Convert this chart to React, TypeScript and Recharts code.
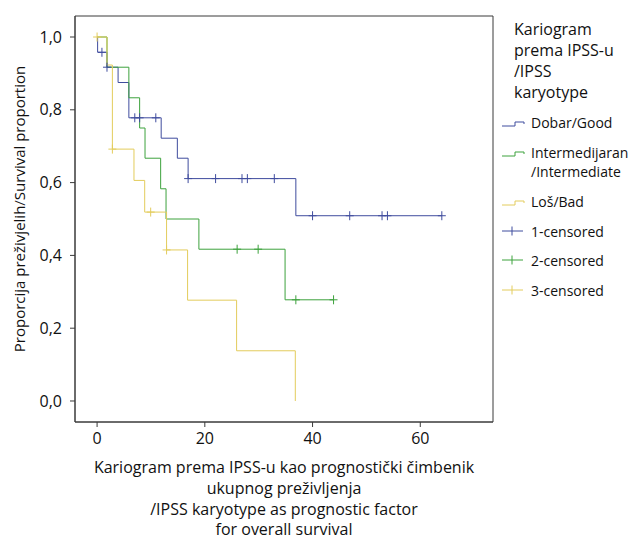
import { ComposedChart, Line, Scatter, XAxis, YAxis, ReferenceArea } from "recharts";

const FONT = '"Open Sans", "Noto Sans", sans-serif';

// Kaplan-Meier steps (time in months, survival proportion after that time)
const goodTimes = [0, 0.1, 1.84, 3.9, 5.9, 11.9, 14.9, 16.9, 36.9, 64.0];
const goodSurv = [1.0, 0.958, 0.917, 0.875, 0.778, 0.722, 0.667, 0.611, 0.509, 0.509];
const goodCensored = [0.9, 1.84, 7.0, 7.9, 10.9, 16.9, 22.0, 26.9, 27.9, 32.9, 40.0, 46.9, 52.9, 53.9, 64.0];

const midTimes = [0, 1.84, 5.9, 7.9, 8.9, 11.8, 12.8, 18.9, 34.9, 43.9];
const midSurv = [1.0, 0.917, 0.833, 0.75, 0.667, 0.583, 0.5, 0.417, 0.278, 0.278];
const midCensored = [26.0, 29.9, 36.9, 43.9];

const badTimes = [0, 1.84, 2.84, 6.85, 8.84, 12.9, 16.8, 25.9, 36.8];
const badSurv = [1.0, 0.923, 0.692, 0.606, 0.519, 0.415, 0.277, 0.138, 0.0];
const badCensored = [0, 2.84, 9.95, 12.9];

const xTicks = [0, 20, 40, 60];
const yTicks = [0, 0.2, 0.4, 0.6, 0.8, 1.0];

const xTitle = [
  "Kariogram prema IPSS-u kao prognostički čimbenik",
  "ukupnog preživljenja",
  "/IPSS karyotype as prognostic factor",
  "for overall survival",
];
const yTitle = "Proporcija preživjelih/Survival proportion";
const legendTitle = ["Kariogram", "prema IPSS-u", "/IPSS", "karyotype"];

const BLUE = "#3f4c9e";
const GREEN = "#3da23d";
const YELLOW = "#e3cc5c";
const FRAME = "#3a3a3a";
const TEXT = "#111";

const toPoints = (times: number[], surv: number[]) => times.map((t, i) => ({ t, s: surv[i] }));

const survAt = (times: number[], surv: number[], t: number) => {
  let v = surv[0];
  times.forEach((tt, i) => {
    if (tt <= t) v = surv[i];
  });
  return v;
};

const censorPoints = (times: number[], surv: number[], cens: number[]) =>
  cens.map((t) => ({ t, s: survAt(times, surv, t) }));

const cross = (color: string) => (props: any) => {
  const { cx, cy } = props;
  return (
    <g stroke={color} strokeWidth={1}>
      <line x1={cx - 4} x2={cx + 4} y1={cy} y2={cy} />
      <line x1={cx} x2={cx} y1={cy - 4.5} y2={cy + 4.5} />
    </g>
  );
};

const legendSteps = [
  { label: ["Dobar/Good"], color: BLUE, y: 122 },
  { label: ["Intermedijaran", "/Intermediate"], color: GREEN, y: 152 },
  { label: ["Loš/Bad"], color: YELLOW, y: 201 },
];
const legendCensored = [
  { label: "1-censored", color: BLUE, y: 231 },
  { label: "2-censored", color: GREEN, y: 260 },
  { label: "3-censored", color: YELLOW, y: 290 },
];

export default function App() {
  return (
    <div style={{ position: "absolute", left: 0, top: 0, width: 631, height: 538, background: "#fff" }}>
      <ComposedChart width={631} height={538} margin={{ top: 16, right: 138, bottom: 86, left: 35 }}>
        <XAxis
          dataKey="t"
          type="number"
          domain={[-4.1, 73.5]}
          allowDataOverflow
          ticks={xTicks}
          height={30}
          tickSize={5}
          tickMargin={6}
          stroke={FRAME}
          tick={{ fill: TEXT, fontSize: 16, fontFamily: FONT }}
        />
        <YAxis
          dataKey="s"
          type="number"
          domain={[-0.0577, 1.0577]}
          allowDataOverflow
          ticks={yTicks}
          width={40}
          tickSize={5}
          tickMargin={8}
          stroke={FRAME}
          tickFormatter={(v: number) => v.toFixed(1).replace(".", ",")}
          tick={{ fill: TEXT, fontSize: 16, fontFamily: FONT }}
        />
        <ReferenceArea
          x1={-4.1}
          x2={73.5}
          y1={-0.0577}
          y2={1.0577}
          fill="none"
          stroke={FRAME}
          strokeWidth={1}
          ifOverflow="visible"
        />
        <Line data={toPoints(goodTimes, goodSurv)} dataKey="s" type="stepAfter" stroke={BLUE} strokeWidth={1} dot={false} isAnimationActive={false} />
        <Line data={toPoints(midTimes, midSurv)} dataKey="s" type="stepAfter" stroke={GREEN} strokeWidth={1} dot={false} isAnimationActive={false} />
        <Line data={toPoints(badTimes, badSurv)} dataKey="s" type="stepAfter" stroke={YELLOW} strokeWidth={1} dot={false} isAnimationActive={false} />
        <Scatter data={censorPoints(goodTimes, goodSurv, goodCensored)} dataKey="s" shape={cross(BLUE)} isAnimationActive={false} />
        <Scatter data={censorPoints(midTimes, midSurv, midCensored)} dataKey="s" shape={cross(GREEN)} isAnimationActive={false} />
        <Scatter data={censorPoints(badTimes, badSurv, badCensored)} dataKey="s" shape={cross(YELLOW)} isAnimationActive={false} />
      </ComposedChart>

      {/* titles and legend */}
      <svg
        width={631}
        height={538}
        style={{ position: "absolute", left: 0, top: 0, pointerEvents: "none" }}
        fontFamily={FONT}
        fill={TEXT}
      >
        <text transform="translate(19,209) rotate(-90)" textAnchor="middle" dominantBaseline="central" fontSize={15}>
          {yTitle}
        </text>
        {xTitle.map((l, i) => (
          <text key={l} x={284} y={[467, 488, 508.5, 528.5][i]} textAnchor="middle" dominantBaseline="central" fontSize={16}>
            {l}
          </text>
        ))}
        {legendTitle.map((l, i) => (
          <text key={l} x={514} y={28.5 + i * 21} dominantBaseline="central" fontSize={16}>
            {l}
          </text>
        ))}
        {legendSteps.map((e) => (
          <g key={e.label[0]}>
            <path d={`M502,${e.y + 4} H515 V${e.y} H524 V${e.y + 2}`} fill="none" stroke={e.color} strokeWidth={1} />
            {e.label.map((l, i) => (
              <text key={l} x={531} y={e.y + i * 19.5} dominantBaseline="central" fontSize={14}>
                {l}
              </text>
            ))}
          </g>
        ))}
        {legendCensored.map((e) => (
          <g key={e.label}>
            <line x1={502} x2={523} y1={e.y} y2={e.y} stroke={e.color} strokeWidth={1} />
            <line x1={512} x2={512} y1={e.y - 4.5} y2={e.y + 4.5} stroke={e.color} strokeWidth={1} />
            <text x={531} y={e.y} dominantBaseline="central" fontSize={14}>
              {e.label}
            </text>
          </g>
        ))}
      </svg>
    </div>
  );
}
